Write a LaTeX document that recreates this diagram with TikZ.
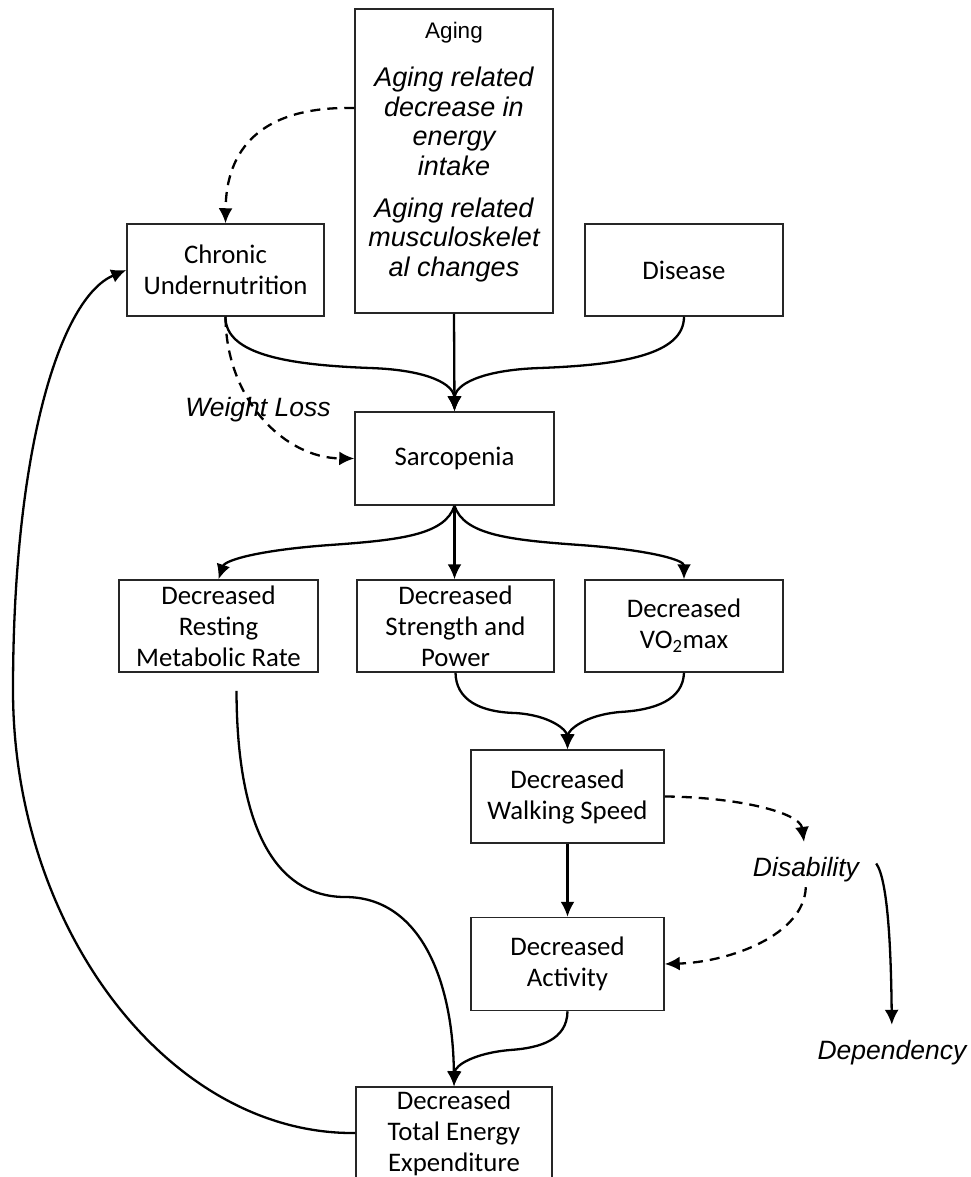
\documentclass[tikz,border=0pt]{standalone}
\usepackage{fontspec}
\setmainfont{Carlito}
\newfontfamily\arialf{Liberation Sans}
\usetikzlibrary{arrows.meta}
\begin{document}
\begin{tikzpicture}[x=1pt,y=-1pt,
  box/.style={draw=black!85,line width=1.5pt,rectangle,minimum width=198pt,minimum height=92pt,inner sep=0pt,align=center,font=\fontsize{26.8}{31}\selectfont},
  conn/.style={line width=2.3pt,-{Latex[length=15pt,width=14pt]}},
  dconn/.style={conn,dash pattern=on 10pt off 7pt},
  lbl/.style={font=\arialf\itshape\fontsize{26.5}{30}\selectfont,inner sep=0pt,text height=19pt,text depth=6pt},
  aitalic/.style={font=\arialf\itshape\fontsize{27}{29.5}\selectfont,align=center,inner sep=0pt}]
\useasboundingbox (0,0) rectangle (971,1177);
\clip (0,0) rectangle (971,1177);
% nodes
\node[box,minimum width=197pt] (chronic) at (225.5,270) {Chronic\\Undernutrition};
\node[box,minimum height=304pt] (aging) at (454,161) {};
\node[font=\arialf\fontsize{22.5}{26}\selectfont,inner sep=0pt] (agingT) at (454,33) {Aging};
\node[aitalic] (aging1) at (454,121.5) {Aging related\\decrease in\\energy\\intake};
\node[aitalic] (aging2) at (454,240) {Aging related\\musculoskelet\\al changes};
\node[box] (disease) at (684,270) {Disease};
\node[box,minimum width=199pt,minimum height=93pt] (sarc) at (454.5,458.5) {Sarcopenia};
\node[box,minimum width=199pt] (rest) at (218.5,626) {Decreased\\Resting\\Metabolic Rate};
\node[box,minimum width=197pt] (str) at (455.5,626) {Decreased\\Strength and\\Power};
\node[box] (vo2) at (684,626) {Decreased\\VO\textsubscript{2}max};
\node[box,minimum width=193pt,minimum height=93pt] (walk) at (567.5,796.5) {Decreased\\Walking Speed};
\node[box,minimum width=193pt,minimum height=93pt] (act) at (567.5,964) {Decreased\\Activity};
\node[box,minimum width=196pt] (total) at (454,1133) {Decreased\\Total Energy\\Expenditure};
\node[lbl,anchor=base] (disab) at (806,876) {Disability};
\node[lbl,anchor=base] (dep) at (892,1059) {Dependency};
\node[lbl] (wl) at (258,410) {Weight Loss};
% connectors
\draw[dconn] ([yshift=53pt]aging.west) .. controls (260,106) and (226,150) .. (chronic.north);
\draw[dconn] (chronic.south) .. controls (226,400) and (285,458) .. (sarc.west);
\draw[conn] (chronic.south) .. controls (225,355) and (290,365) .. (370,368) .. controls (430,370) and (454,385) .. (sarc.north);
\draw[conn] (disease.south) .. controls (684,355) and (620,365) .. (540,368) .. controls (480,370) and (455,385) .. (sarc.north);
\draw[conn] (aging.south) -- (sarc.north);
\draw[conn] (sarc.south) .. controls (445,535) and (400,540) .. (330,545) .. controls (260,550) and (225,560) .. (rest.north);
\draw[conn] (sarc.south) -- (sarc.south |- str.north);
\draw[conn] (sarc.south) .. controls (464,535) and (510,540) .. (580,545) .. controls (650,550) and (684,560) .. (vo2.north);
\draw[conn] (str.south) .. controls (456,700) and (480,712) .. (515,713) .. controls (550,715) and (567,730) .. (walk.north);
\draw[conn] (vo2.south) .. controls (683,700) and (655,710) .. (620,712) .. controls (585,715) and (568,730) .. (walk.north);
\draw[conn] (walk.south) -- (act.north);
\draw[dconn,shorten >=15pt] (walk.east) .. controls (735,797) and (800,812) .. (disab.north);
\draw[dconn,shorten <=5pt] (disab.south) .. controls (804,935) and (730,962) .. (act.east);
\draw[conn,shorten >=15pt] ([xshift=17pt,yshift=6pt]disab.east) .. controls (888,880) and (891,950) .. (dep.north);
\draw[conn] ([xshift=18pt,yshift=-18pt]rest.south) .. controls (237,860) and (295,897) .. (345,897) .. controls (420,897) and (453,980) .. (total.north);
\draw[conn] (act.south) .. controls (567,1040) and (540,1048) .. (510,1050) .. controls (475,1053) and (455,1065) .. (total.north);
\draw[conn] (total.west) .. controls (170,1135) and (13,930) .. (13,690) .. controls (13,450) and (60,298) .. (chronic.west);
\end{tikzpicture}
\end{document}
